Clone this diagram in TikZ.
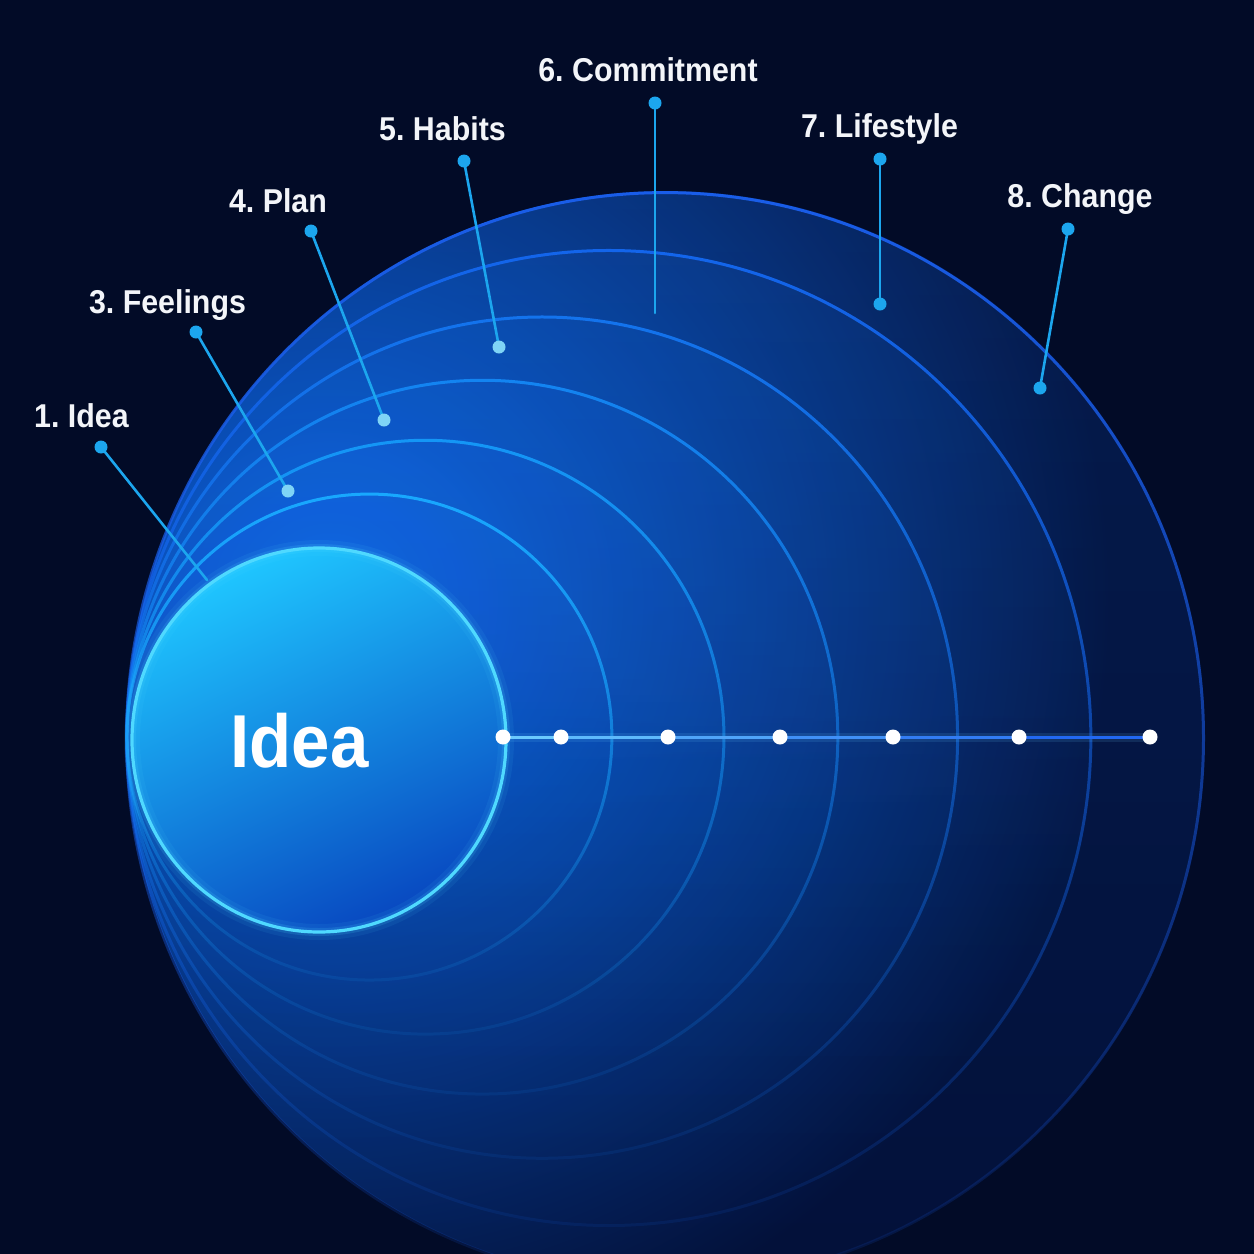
\documentclass[tikz,border=0pt]{standalone}
\usepackage{fontspec}
\setmainfont{Liberation Sans}[FakeStretch=0.92]
\usetikzlibrary{fadings}
\frenchspacing

\definecolor{navybg}{HTML}{020B27}
\definecolor{deepblue}{HTML}{03113A}
\definecolor{glowblue}{HTML}{0A5DD6}
\definecolor{ringfill}{HTML}{1C7CFF}
\definecolor{ring2}{HTML}{19A9FF}
\definecolor{ring3}{HTML}{1597F7}
\definecolor{ring4}{HTML}{1485F2}
\definecolor{ring5}{HTML}{1474EE}
\definecolor{ring6}{HTML}{1466EC}
\definecolor{ring7}{HTML}{1A5EEA}
\definecolor{ideatop}{HTML}{1FC6FF}
\definecolor{ideamid}{HTML}{0C8CF2}
\definecolor{ideabot}{HTML}{0848C0}
\definecolor{ideaedge}{HTML}{4FD9FF}
\definecolor{leadcyan}{HTML}{1CA6EE}
\definecolor{paledot}{HTML}{7FD4F6}
\definecolor{linestart}{HTML}{6FD0FF}
\definecolor{lineend}{HTML}{1A5CF0}
\definecolor{labelwhite}{HTML}{F3F5F9}

\tikzfading[name=ringfade, top color=transparent!0, bottom color=transparent!90]
\tikzfading[name=fillfade, top color=transparent!0, bottom color=transparent!100]

\begin{document}
\begin{tikzpicture}[x=1pt, y=-1pt, line cap=round]
    \tikzset{
        ring/.style={line width=3pt},
        leader/.style={draw=leadcyan, line width=2.6pt},
        tipdot/.style={fill=leadcyan},
        enddot/.style={fill=paledot},
        stagelabel/.style={text=labelwhite, anchor=base, inner sep=0pt,
            font=\bfseries\fontsize{33}{33}\selectfont},
    }
    \useasboundingbox (0,0) rectangle (1254,1254);
    \fill [navybg] (0,0) rectangle (1254,1254);

    % glow inside the outer ring
    \begin{scope}
        \clip (666,737) ellipse (539 and 546);
        \fill [deepblue] (0,0) rectangle (1254,1254);
        \shade [inner color=glowblue, outer color=deepblue] (330,600) circle [radius=780];
    \end{scope}

    % rings, outer first
    \foreach \rx/\ry/\edge in {539/546/ring7, 482.5/488/ring6, 416/421/ring5, 355.5/357/ring4, 298.5/297/ring3, 242.5/243/ring2} {
        \fill [ringfill, fill opacity=0.1, path fading=fillfade] ({127+\rx},737) ellipse ({\rx} and {\ry});
        \draw [ring, draw=\edge, path fading=ringfade] ({127+\rx},737) ellipse ({\rx} and {\ry});
    }

    % the idea itself
    \shade [top color=ideatop, middle color=ideamid, bottom color=ideabot, shading angle=25] (319,740) ellipse (187 and 192);
    \draw [ideaedge, line width=16pt, opacity=0.08] (319,740) ellipse (187 and 192);
    \draw [ideaedge, line width=8pt, opacity=0.15] (319,740) ellipse (187 and 192);
    \draw [ideaedge, line width=3.2pt] (319,740) ellipse (187 and 192);
    \node [text=white, anchor=base, inner sep=0pt, font=\bfseries\fontsize{75}{75}\selectfont] (idea) at (299.5,767) {Idea};

    % axis with markers
    \foreach \x [count=\i] in {503,561,668,780,893,1019,1150}
        \coordinate (m\i) at (\x,737);
    \draw [linestart, line width=9pt, opacity=0.12] (m1) -- (m7);
    \foreach \i/\j/\c in {1/2/95, 2/3/80, 3/4/62, 4/5/45, 5/6/28, 6/7/10}
        \draw [draw=linestart!\c!lineend, line width=3pt] (m\i) -- (m\j);
    \foreach \i in {1,...,7}
        \fill [white] (m\i) circle [radius=7.5];

    % stage labels
    \node [stagelabel] (idea-lab) at (81.5,427) {1. Idea};
    \node [stagelabel] (feel-lab) at (167.5,313) {3. Feelings};
    \node [stagelabel] (plan-lab) at (278,212) {4. Plan};
    \node [stagelabel] (habit-lab) at (442.5,140) {5. Habits};
    \node [stagelabel] (commit-lab) at (648,81) {6. Commitment};
    \node [stagelabel] (life-lab) at (879.5,137) {7. Lifestyle};
    \node [stagelabel] (change-lab) at (1080,207) {8. Change};

    % leaders
    \foreach \name/\tx/\ty/\ex/\ey in {idea/101/447/207/580, feel/196/332/288/491, plan/311/231/384/420, habit/464/161/499/347, commit/655/103/655/313, life/880/159/880/304, change/1068/229/1040/388} {
        \coordinate (\name-top) at (\tx,\ty);
        \coordinate (\name-end) at (\ex,\ey);
        \draw [leader] (\name-top) -- (\name-end);
        \fill [tipdot] (\name-top) circle [radius=6.5];
    }
    \foreach \name in {feel, plan, habit}
        \fill [enddot] (\name-end) circle [radius=6.5];
    \foreach \name in {life, change}
        \fill [tipdot] (\name-end) circle [radius=6.5];

\end{tikzpicture}
\end{document}
